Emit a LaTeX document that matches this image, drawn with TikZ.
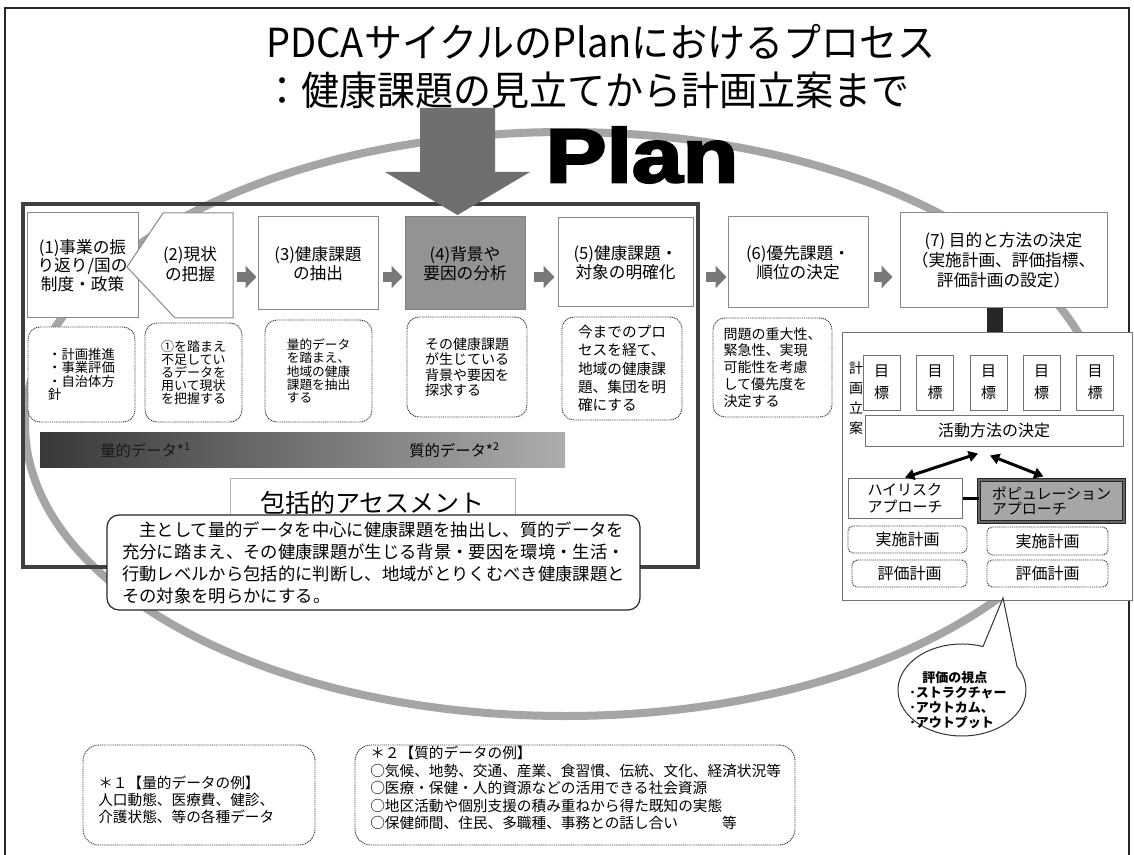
\documentclass[tikz,border=0pt]{standalone}
\usepackage{fontspec}
\usepackage{graphicx}
\setmainfont{Noto Sans CJK JP}
\newfontfamily\planfont{Liberation Sans}[BoldFeatures={FakeBold=3}]
\usetikzlibrary{arrows.meta,calc}
\definecolor{ellgray}{HTML}{A5A5A5}
\definecolor{framegray}{HTML}{404040}
\definecolor{boxgray}{HTML}{8A8A8A}
\definecolor{boxfour}{HTML}{939393}
\definecolor{arrowgray}{HTML}{787878}
\definecolor{bigarrow}{HTML}{6F6F6F}
\definecolor{barA}{HTML}{383838}
\definecolor{barB}{HTML}{7C7C7C}
\definecolor{barC}{HTML}{ADADAD}
\definecolor{popfill}{HTML}{A6A6A6}
\definecolor{barblack}{HTML}{262626}
\begin{document}
\begin{tikzpicture}[x=0.75pt,y=-0.75pt,
  wh/.style 2 args={minimum width=#1*0.75pt,minimum height=#2*0.75pt},
  topbox/.style={draw=boxgray,fill=white,line width=0.75pt,inner sep=0pt,align=center,
    font=\fontsize{12.5pt}{14.25pt}\selectfont},
  dotbox/.style={draw=black!75,fill=white,rounded corners=9pt,dash pattern=on 0.8pt off 0.6pt,
    line width=0.7pt,inner sep=0pt,align=left},
  blockarrow/.style={arrowgray,line width=7.5pt,-{Triangle[length=8.25pt,width=16.5pt]}},
  panelbox/.style={draw=black!55,fill=white,line width=0.75pt,inner sep=0pt,align=center},
  goalbox/.style={panelbox,wh={37}{55},font=\fontsize{11.25pt}{16.5pt}\selectfont},
  planbox/.style={dotbox,rounded corners=4pt,align=center,font=\fontsize{12pt}{12pt}\selectfont},
  dblarrow/.style={black,line width=2.25pt,{Triangle[length=7pt,width=8pt]}-{Triangle[length=7pt,width=8pt]}},
  bartext/.style={inner sep=0pt,font=\fontsize{11.5pt}{11.5pt}\selectfont},
  titletext/.style={inner sep=0pt,font=\fontsize{30pt}{30pt}\selectfont}
]
\useasboundingbox (0,0) rectangle (1134,855);
\fill[white] (0,0) rectangle (1134,855);
% page border
\draw[black!85,line width=1.5pt] (5,8) rectangle (1129,870);
% big cycle ellipse
\draw[ellgray,line width=6pt] (565,424) ellipse[x radius=540,y radius=292];
% thick frame
\draw[framegray,line width=3pt] (23,204) rectangle (698,567);

% title
\node[titletext] (t1) at (601,42) {\scalebox{0.95}[1]{PDCAサイクルのPlanにおけるプロセス}};
\node[titletext] (t2) at (586,90) {\scalebox{0.95}[1]{：健康課題の見立てから計画立案まで}};
\node[inner sep=0pt,font={\fontsize{57pt}{57pt}\planfont\bfseries}] (plan) at (642,155) {\scalebox{1.2}[1]{Plan}};

% top row boxes
\node[topbox,wh={111}{105},font=\fontsize{12.5pt}{11.5pt}\selectfont] (b1) at (82.5,265.5) {(1)事業の振\\り返り/国の\\制度・政策};
\node[wh={70}{105},inner sep=0pt] (b2) at (198,265.5) {};
\draw[boxgray,fill=white,line width=0.75pt] (163,213) -- (233,213) -- (233,318) -- (175,318) -- (127,267) -- cycle;
\node[inner sep=0pt,align=center,font=\fontsize{12.5pt}{15pt}\selectfont] (b2t) at (190,264) {(2)現状\\の把握};
\node[topbox,wh={120}{93}] (b3) at (318,263.5) {(3)健康課題\\の抽出};
\node[topbox,wh={120}{93},fill=boxfour,draw=black!50] (b4) at (465,263.5) {(4)背景や\\要因の分析};
\node[topbox,wh={135}{89}] (b5) at (625.5,262.5) {(5)健康課題・\\対象の明確化};
\node[topbox,wh={140}{91}] (b6) at (798,262.5) {(6)優先課題・\\順位の決定};
\node[topbox,wh={207}{95},font=\fontsize{12.5pt}{15pt}\selectfont] (b7) at (1003.5,260.5) {(7) 目的と方法の決定\\（実施計画、評価指標、\\評価計画の設定）};

% block arrows
\coordinate (ay) at (0,277);
\draw[blockarrow,shorten <=3pt,shorten >=0.75pt] (b2.east |- ay) -- (b3.west |- ay);
\draw[blockarrow,shorten <=3pt,shorten >=1.5pt] (b3.east |- ay) -- (b4.west |- ay);
\draw[blockarrow,shorten <=6pt,shorten >=2.25pt] (b4.east |- ay) -- (b5.west |- ay);
\draw[blockarrow,shorten <=9pt,shorten >=0.75pt] (b5.east |- ay) -- (b6.west |- ay);
\draw[blockarrow,shorten <=3.75pt,shorten >=5.25pt] (b6.east |- ay) -- (b7.west |- ay);

% big down arrow
\fill[bigarrow] (420,108) -- (495,108) -- (495,172) -- (530,172) -- (457.5,215) -- (385,172) -- (420,172) -- cycle;

% dotted description boxes
\node[dotbox,wh={107}{95},font=\fontsize{10pt}{10pt}\selectfont] (d1) at (81.5,374.5) {・計画推進\\・事業評価\\・自治体方\\針};
\node[dotbox,wh={97}{99},font=\fontsize{9.75pt}{9.9pt}\selectfont] (d2) at (193.5,372.5) {①を踏まえ\\不足してい\\るデータを\\用いて現状\\を把握する};
\node[dotbox,wh={107}{102},font=\fontsize{9.5pt}{10pt}\selectfont] (d3) at (318.5,371) {量的データ\\を踏まえ、\\地域の健康\\課題を抽出\\する};
\node[dotbox,wh={120}{100},font=\fontsize{10.5pt}{11.6pt}\selectfont] (d4) at (467,367) {その健康課題\\が生じている\\背景や要因を\\探求する};
\node[dotbox,wh={120}{103},font=\fontsize{11pt}{13.6pt}\selectfont] (d5) at (622,368.5) {今までのプロ\\セスを経て、\\地域の健康課\\題、集団を明\\確にする};
\node[dotbox,wh={119}{99},font=\fontsize{10.5pt}{12.6pt}\selectfont] (d6) at (772.5,367.5) {問題の重大性、\\緊急性、実現\\可能性を考慮\\して優先度を\\決定する};

% gradient bar
\node[wh={525}{35},inner sep=0pt,left color=barA,middle color=barB,right color=barC] (bar) at (302.5,449.5) {};
\node[bartext,anchor=west,text=black!90] (q1) at (100,450) {量的データ*\textsuperscript{1}};
\node[bartext,anchor=west] (q2) at (409,450) {質的データ*\textsuperscript{2}};

% comprehensive assessment
\node[draw=black!30,fill=white,line width=0.75pt,wh={285}{50},inner sep=0pt,font=\fontsize{18.75pt}{18.75pt}\selectfont] (hk) at (372.5,503) {包括的アセスメント};

% summary box
\node[draw=black!85,fill=white,rounded corners=9pt,line width=0.9pt,wh={533}{95},inner sep=0pt,align=left,
  font=\fontsize{13pt}{16.5pt}\selectfont] (sum) at (373.5,562.5)
  {　主として量的データを中心に健康課題を抽出し、質的データを\\充分に踏まえ、その健康課題が生じる背景・要因を環境・生活・\\行動レベルから包括的に判断し、地域がとりくむべき健康課題と\\その対象を明らかにする。};

% right panel
\node[panelbox,wh={290}{267}] (panel) at (987,466.5) {};
\coordinate (barx) at (995,0);
\draw[barblack,line width=12pt] (barx |- b7.south) -- (barx |- panel.north);
\node[inner sep=0pt,align=center,font=\fontsize{10.5pt}{15pt}\selectfont] (kk) at (856,398) {計\\画\\立\\案};
\node[goalbox] (g1) at (881.5,382.5) {目\\標};
\node[goalbox] (g2) at (935,382.5) {目\\標};
\node[goalbox] (g3) at (988.5,382.5) {目\\標};
\node[goalbox] (g4) at (1041.5,382.5) {目\\標};
\node[goalbox] (g5) at (1095,382.5) {目\\標};
\node[panelbox,wh={258}{31},font=\fontsize{12pt}{12pt}\selectfont] (act) at (994,430.5) {活動方法の決定};
\node[panelbox,wh={114}{40},align=left,font=\fontsize{11.25pt}{12.75pt}\selectfont] (hr) at (905,498) {ハイリスク\\アプローチ};
\node[draw=black!85,line width=0.75pt,double=black!60,double distance=1.5pt,fill=popfill,wh={145}{42},inner sep=0pt,
  align=left,font=\fontsize{11.25pt}{11.5pt}\selectfont] (pop) at (1051.5,501) {ポピュレーション\\アプローチ};
\draw[black,line width=2.25pt] (hr.east) -- (pop.west |- hr.east);
\draw[dblarrow] ($(act.south)+(-16,7)$) -- (hr.north);
\draw[dblarrow] ($(act.south)+(-4,9)$) -- ($(pop.north)+(-8,-3)$);
\node[planbox,wh={119}{27}] (jl) at (907.5,539.5) {実施計画};
\node[planbox,wh={121}{28}] (jr) at (1047.5,541) {実施計画};
\node[planbox,wh={115}{27}] (el) at (909.5,573.5) {評価計画};
\node[planbox,wh={121}{27}] (er) at (1047.5,573.5) {評価計画};

% evaluation callout
\draw[black!80,fill=white,line width=0.75pt] (983,646.6) -- (1003,598) -- (1017,666.5)
  arc[start angle=-30.7,end angle=289.2,x radius=64,y radius=46] -- cycle;
\node[inner sep=0pt,align=left,font=\bfseries\fontsize{9.75pt}{11.25pt}\selectfont] (ev) at (958,700)
  {\hspace*{1em}評価の視点\\･ストラクチャー\\･アウトカム、\\･アウトプット};

% bottom example boxes
\node[dotbox,wh={232}{100},rounded corners=12pt] (ex1) at (199,795) {};
\node[anchor=west,align=left,inner sep=0pt,font=\fontsize{11pt}{12.75pt}\selectfont] (ex1t) at (98,800)
  {＊１【量的データの例】\\人口動態、医療費、健診、\\介護状態、等の各種データ};
\node[dotbox,wh={440}{100},rounded corners=12pt] (ex2) at (575,795) {};
\node[anchor=west,align=left,inner sep=0pt,font=\fontsize{11pt}{13.1pt}\selectfont] (ex2t) at (370,788)
  {＊２【質的データの例】\\○気候、地勢、交通、産業、食習慣、伝統、文化、経済状況等\\○医療・保健・人的資源などの活用できる社会資源\\○地区活動や個別支援の積み重ねから得た既知の実態\\○保健師間、住民、多職種、事務との話し合い\hspace{3em}等};
\end{tikzpicture}
\end{document}
